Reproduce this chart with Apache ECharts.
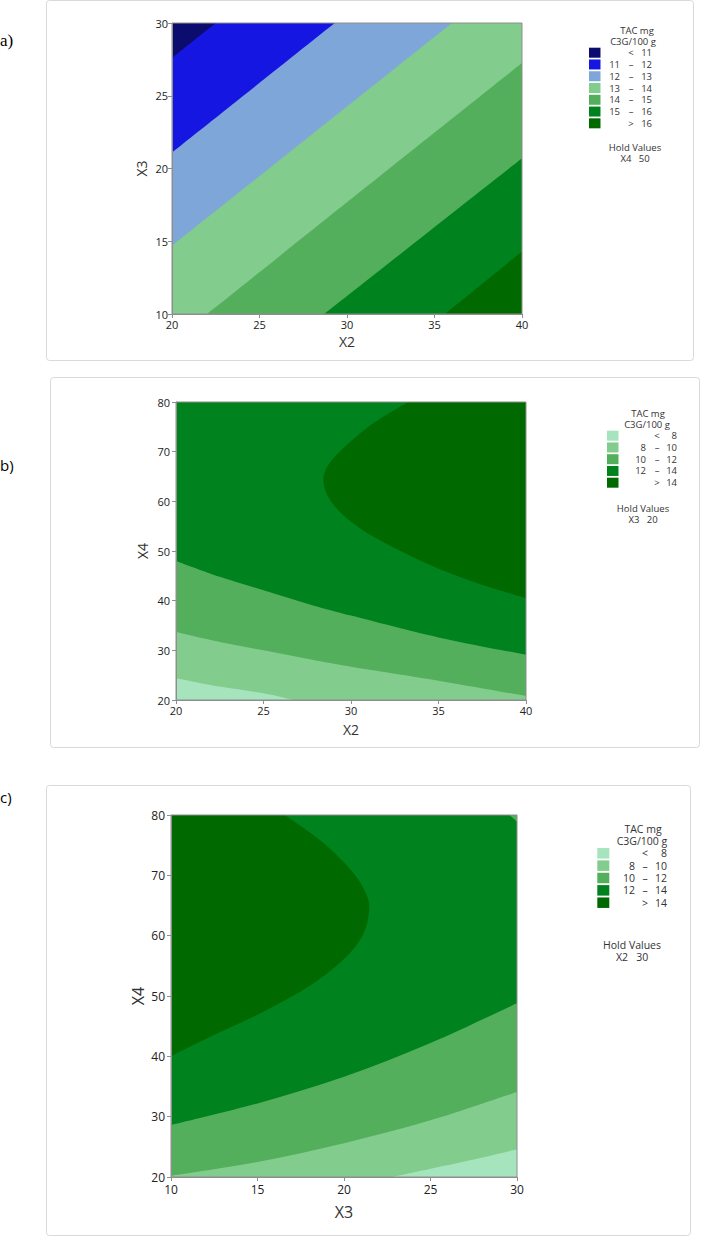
<!DOCTYPE html>
<html><head><meta charset="utf-8">
<script src="https://cdn.jsdelivr.net/npm/echarts@6/dist/echarts.min.js"></script>
<style>html,body{margin:0;padding:0;background:#fff}#c{width:701px;height:1237px}</style>
</head><body><div id="c"></div>
<script>
// ---------- DATA ----------
// Panel a: X2 vs X3 (hold X4 = 50)
const aXRange = [20, 40];
const aYRange = [10, 30];
const aLevels = [11, 12, 13, 14, 15, 16];
const aColors = ['#0C0C6E', '#1616E3', '#7FA6D8', '#82CC8D', '#53AF5B', '#00821F', '#006A00'];
const aContour11 = [[22.5, 30], [20, 27.6]];
const aContour12 = [[29.3, 30], [20, 21.1]];
const aContour13 = [[36, 30], [20, 14.7]];
const aContour14 = [[40, 27.25], [22, 10]];
const aContour15 = [[40, 20.7], [28.7, 10]];
const aContour16 = [[40, 14.3], [35.6, 10]];
const aHold = ['X4', '50'];

// Panel b: X2 vs X4 (hold X3 = 20)
const bXRange = [20, 40];
const bYRange = [20, 80];
const bLevels = [8, 10, 12, 14];
const bColors = ['#A6E4BE', '#82CC8D', '#53AF5B', '#00821F', '#006A00'];
const bContour8 = [[20, 24.4], [22.5, 22.7], [25, 21.35], [26.7, 20]];
const bContour10 = [[20, 33.7], [22.5, 31.7], [25, 30.0], [27.5, 28.3], [30, 26.7], [35, 23.9], [40, 20.8]];
const bContour12 = [[20, 48.0], [22.5, 44.8], [25, 42.1], [27.5, 39.4], [30, 37.0], [35, 32.6], [40, 29.1]];
const bContour14 = [[33.27, 80], [31.27, 75.7], [29.56, 70.7], [28.7, 67.3], [28.42, 64.3], [28.7, 60.9], [29.56, 57.2], [31.27, 52.9], [34.13, 47.8], [36.99, 43.8], [40, 40.5]];
const bHold = ['X3', '20'];

// Panel c: X3 vs X4 (hold X2 = 30)
const cXRange = [10, 30];
const cYRange = [20, 80];
const cLevels = [8, 10, 12, 14];
const cColors = ['#A6E4BE', '#82CC8D', '#53AF5B', '#00821F', '#006A00'];
const cContour8 = [[22.8, 20], [25.07, 21.4], [27.5, 22.9], [30, 24.6]];
const cContour10 = [[10, 20.2], [15, 22.5], [20, 25.6], [25, 29.4], [30, 34.1]];
const cContour12 = [[10, 28.6], [15, 32.2], [20, 36.6], [25, 42.2], [30, 48.8]];
const cContour12b = [[29.56, 80], [30, 78.9]];
const cContour14 = [[10, 40], [12.54, 43.6], [15.43, 47.5], [18.13, 51.9], [20.06, 56.3], [21.1, 60.2], [21.45, 64.0], [21.3, 66.8], [20.45, 70.7], [18.71, 75.6], [16.59, 80]];
const cHold = ['X2', '30'];

const legendTitle = ['TAC mg', 'C3G/100 g'];

// ---------- HELPERS ----------
const FONT = '"Open Sans", "Noto Sans", sans-serif';

function perimT(p, r) {
  const w = r.x1 - r.x0, h = r.y1 - r.y0, ex = w * 1e-4, ey = h * 1e-4;
  const [x, y] = p;
  if (Math.abs(y - r.y0) < ey && x < r.x1 - ex) return (x - r.x0) / w;
  if (Math.abs(x - r.x1) < ex && y < r.y1 - ey) return 1 + (y - r.y0) / h;
  if (Math.abs(y - r.y1) < ey && x > r.x0 + ex) return 2 + (r.x1 - x) / w;
  return 3 + (r.y1 - y) / h;
}
function corner(k, r) {
  return [[r.x0, r.y0], [r.x1, r.y0], [r.x1, r.y1], [r.x0, r.y1]][((k % 4) + 4) % 4];
}
// corners of the plot frame walked from the contour's end back to its start
function closingCorners(pts, r) {
  const A = pts[0], B = pts[pts.length - 1];
  let tA = perimT(A, r), tB = perimT(B, r);
  if (tA <= tB) tA += 4;
  const out = [];
  for (let k = Math.floor(tB) + 1; k < tA - 1e-9; k++) out.push(corner(k, r));
  return out;
}
const f = v => v.toFixed(2);
// smooth (Catmull-Rom) path through contour pixels, then straight along the frame
function pathFor(curvePx, cornerPx) {
  const n = curvePx.length;
  let d = 'M' + f(curvePx[0][0]) + ',' + f(curvePx[0][1]);
  for (let i = 0; i < n - 1; i++) {
    const p0 = curvePx[Math.max(i - 1, 0)], p1 = curvePx[i], p2 = curvePx[i + 1], p3 = curvePx[Math.min(i + 2, n - 1)];
    const c1 = [p1[0] + (p2[0] - p0[0]) / 6, p1[1] + (p2[1] - p0[1]) / 6];
    const c2 = [p2[0] - (p3[0] - p1[0]) / 6, p2[1] - (p3[1] - p1[1]) / 6];
    d += 'C' + f(c1[0]) + ',' + f(c1[1]) + ' ' + f(c2[0]) + ',' + f(c2[1]) + ' ' + f(p2[0]) + ',' + f(p2[1]);
  }
  cornerPx.forEach(p => { d += 'L' + f(p[0]) + ',' + f(p[1]); });
  return d + 'Z';
}

function makeSeries(idx, xr, yr, levels, colors, contours) {
  const r = { x0: xr[0], x1: xr[1], y0: yr[0], y1: yr[1] };
  const items = [{ bg: true, color: colors[0] }];
  contours.forEach(c => {
    const cls = levels.indexOf(c.level) + (c.above ? 1 : 0);
    items.push({ pts: c.pts, corners: closingCorners(c.pts, r), color: colors[cls] });
  });
  items.push({ frame: true });
  return {
    type: 'custom', coordinateSystem: 'cartesian2d', xAxisIndex: idx, yAxisIndex: idx,
    silent: true, animation: false, z: 2,
    data: items.map(() => [xr[0], yr[0]]),
    renderItem: function (params, api) {
      const it = items[params.dataIndex];
      const p0 = api.coord([xr[0], yr[1]]), p1 = api.coord([xr[1], yr[0]]);
      const rectShape = { x: p0[0], y: p0[1], width: p1[0] - p0[0], height: p1[1] - p0[1] };
      if (it.frame) {
        return { type: 'rect', shape: rectShape, style: { fill: 'none', stroke: '#8E8E8E', lineWidth: 1 } };
      }
      if (it.bg) {
        return { type: 'rect', shape: rectShape, style: { fill: it.color } };
      }
      const d = pathFor(it.pts.map(p => api.coord(p)), it.corners.map(p => api.coord(p)));
      return { type: 'path', shape: { pathData: d }, style: { fill: it.color } };
    }
  };
}

function axisPair(idx, xr, yr, xInt, yInt, xName, yName, L) {
  const common = {
    gridIndex: idx, type: 'value', splitLine: { show: false }, z: 5,
    axisLine: { show: true, onZero: false, lineStyle: { color: '#8E8E8E', width: 1 } },
    axisTick: { show: true, length: 4, lineStyle: { color: '#8E8E8E' } },
    nameLocation: 'middle', nameTextStyle: { fontSize: L.nameSize, color: '#333', fontFamily: FONT }
  };
  const x = Object.assign({}, common, { min: xr[0], max: xr[1], interval: xInt, name: xName, nameGap: L.xNameGap,
    axisLabel: { fontSize: L.tickSize, color: '#222', fontFamily: FONT, margin: L.xMargin } });
  const y = Object.assign({}, common, { min: yr[0], max: yr[1], interval: yInt, name: yName, nameGap: L.yNameGap,
    axisLabel: { fontSize: L.tickSize, color: '#222', fontFamily: FONT, margin: L.yMargin } });
  return [x, y];
}

function legendGraphics(levels, colors, hold, G) {
  const els = [];
  const n = levels.length;
  const tStyle = (text, x, y, align) => ({ type: 'text', x: x, y: y,
    style: { text: text, fill: '#333', font: G.fs + 'px ' + FONT, lineHeight: G.fs, textAlign: align, textVerticalAlign: 'middle' } });
  els.push(tStyle(legendTitle[0], G.t1x, G.t1y, 'center'));
  els.push(tStyle(legendTitle[1], G.t2x, G.t2y, 'center'));
  for (let i = 0; i <= n; i++) {
    const cy = G.row0 + i * G.dy;
    els.push({ type: 'rect', shape: { x: G.swX, y: cy - G.swH / 2, width: G.swW, height: G.swH }, style: { fill: colors[i] } });
    if (i === 0) {
      els.push(tStyle('<', G.sym, cy, 'center'));
      els.push(tStyle(String(levels[0]), G.hiR, cy, 'right'));
    } else if (i === n) {
      els.push(tStyle('>', G.sym, cy, 'center'));
      els.push(tStyle(String(levels[n - 1]), G.hiR, cy, 'right'));
    } else {
      els.push(tStyle(String(levels[i - 1]), G.loR, cy, 'right'));
      els.push(tStyle('–', G.sym, cy, 'center'));
      els.push(tStyle(String(levels[i]), G.hiR, cy, 'right'));
    }
  }
  els.push(tStyle('Hold Values', G.hx, G.h1y, 'center'));
  els.push(tStyle(hold[0] + '   ' + hold[1], G.hx, G.h2y, 'center'));
  return els;
}

// ---------- CHART ----------
const chart = echarts.init(document.getElementById('c'), null, { renderer: 'svg', width: 701, height: 1237 });

const LA = { nameSize: 14, tickSize: 11, xNameGap: 20, yNameGap: 24, xMargin: 5, yMargin: 4 };
const LB = { nameSize: 14, tickSize: 11, xNameGap: 22, yNameGap: 27, xMargin: 5, yMargin: 6 };
const LC = { nameSize: 16, tickSize: 12, xNameGap: 27, yNameGap: 25, xMargin: 6, yMargin: 6 };

const axA = axisPair(0, aXRange, aYRange, 5, 5, 'X2', 'X3', LA);
const axB = axisPair(1, bXRange, bYRange, 5, 10, 'X2', 'X4', LB);
const axC = axisPair(2, cXRange, cYRange, 5, 10, 'X3', 'X4', LC);

const boxStyle = { fill: 'none', stroke: '#D9D9D9', lineWidth: 1 };
const graphics = [
  { type: 'rect', shape: { x: 46.5, y: 0.5, width: 647, height: 360, r: 3 }, style: boxStyle, z: 0 },
  { type: 'rect', shape: { x: 50.5, y: 377.5, width: 649, height: 370, r: 3 }, style: boxStyle, z: 0 },
  { type: 'rect', shape: { x: 46.5, y: 785.5, width: 644, height: 450, r: 3 }, style: boxStyle, z: 0 },
  { type: 'text', x: 0, y: 40, style: { text: 'a)', font: '17px "Liberation Serif", "DejaVu Serif", serif', fill: '#000', textVerticalAlign: 'middle' } },
  { type: 'text', x: 0, y: 465, style: { text: 'b)', font: '15px ' + FONT, fill: '#000', textVerticalAlign: 'middle' } },
  { type: 'text', x: 0, y: 797, style: { text: 'c)', font: '15px ' + FONT, fill: '#000', textVerticalAlign: 'middle' } }
].concat(
  legendGraphics(aLevels, aColors, aHold, { fs: 9.5, t1x: 637, t1y: 30.1, t2x: 633, t2y: 41.4, swX: 589, swW: 11.5, swH: 10, row0: 52.7, dy: 11.77, loR: 620, sym: 631, hiR: 652, hx: 635, h1y: 147, h2y: 158.5 }),
  legendGraphics(bLevels, bColors, bHold, { fs: 9.5, t1x: 648, t1y: 413.1, t2x: 647, t2y: 424.4, swX: 607, swW: 11.5, swH: 10, row0: 435.7, dy: 11.75, loR: 646, sym: 657, hiR: 677, hx: 643, h1y: 508, h2y: 519.5 }),
  legendGraphics(cLevels, cColors, cHold, { fs: 10.5, t1x: 643, t1y: 828.7, t2x: 642, t2y: 841, swX: 597.3, swW: 12, swH: 10.5, row0: 853.3, dy: 12.35, loR: 635, sym: 645, hiR: 667, hx: 632, h1y: 944.5, h2y: 957 })
);

chart.setOption({
  animation: false,
  backgroundColor: '#fff',
  grid: [
    { left: 172, top: 23, width: 350, height: 291, outerBoundsMode: 'none', containLabel: false },
    { left: 176, top: 402, width: 350, height: 298, outerBoundsMode: 'none', containLabel: false },
    { left: 171, top: 815, width: 346, height: 362, outerBoundsMode: 'none', containLabel: false }
  ],
  xAxis: [axA[0], axB[0], axC[0]],
  yAxis: [axA[1], axB[1], axC[1]],
  series: [
    makeSeries(0, aXRange, aYRange, aLevels, aColors, [
      { level: 11, above: true, pts: aContour11 },
      { level: 12, above: true, pts: aContour12 },
      { level: 13, above: true, pts: aContour13 },
      { level: 14, above: true, pts: aContour14 },
      { level: 15, above: true, pts: aContour15 },
      { level: 16, above: true, pts: aContour16 }
    ]),
    makeSeries(1, bXRange, bYRange, bLevels, bColors, [
      { level: 8, above: true, pts: bContour8 },
      { level: 10, above: true, pts: bContour10 },
      { level: 12, above: true, pts: bContour12 },
      { level: 14, above: true, pts: bContour14 }
    ]),
    makeSeries(2, cXRange, cYRange, cLevels, cColors, [
      { level: 8, above: true, pts: cContour8 },
      { level: 10, above: true, pts: cContour10 },
      { level: 12, above: true, pts: cContour12 },
      { level: 12, above: false, pts: cContour12b },
      { level: 14, above: true, pts: cContour14 }
    ])
  ],
  graphic: graphics
});
</script></body></html>
